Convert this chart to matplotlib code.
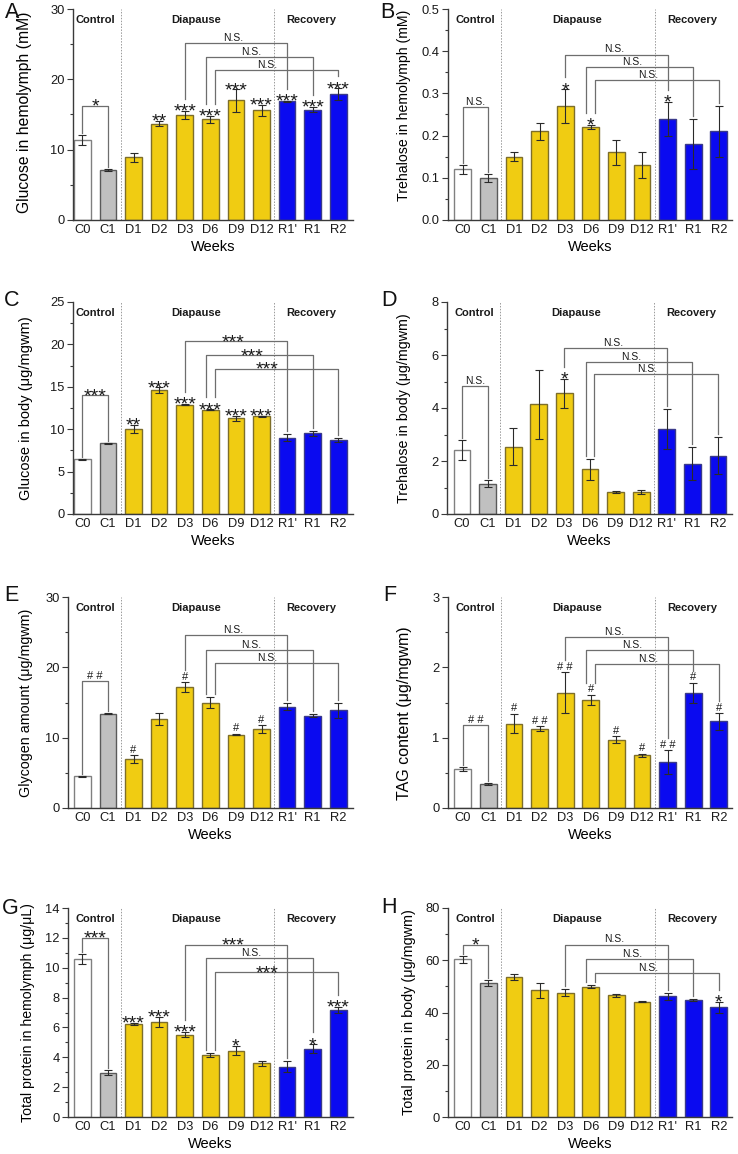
import matplotlib
matplotlib.use("Agg")
import matplotlib.pyplot as plt
import matplotlib.transforms as mtransforms
from matplotlib.ticker import MultipleLocator, FormatStrFormatter

plt.rcParams['font.family'] = ['Liberation Sans', 'DejaVu Sans']

# ---------------- data ----------------
categories = ['C0', 'C1', 'D1', 'D2', 'D3', 'D6', 'D9', 'D12', "R1'", 'R1', 'R2']
groups = ['Control', 'Diapause', 'Recovery']
compare_pairs = [(4, 8), (5, 9), (5, 10)]   # D3-R1', D6-R1, D6-R2

vals_A = [11.4, 7.1, 8.9, 13.7, 14.95, 14.3, 17.0, 15.6, 16.85, 15.7, 17.9]
errs_A = [0.7, 0.1, 0.6, 0.4, 0.6, 0.5, 1.6, 0.8, 0.1, 0.4, 0.8]
marks_A = ['', '', '', '**', '***', '***', '***', '***', '***', '***', '***']
ctrl_A = ('*', 16.2)
cmp_A = [('N.S.', 25.15), ('N.S.', 23.16), ('N.S.', 21.26)]

vals_B = [0.12, 0.10, 0.15, 0.21, 0.27, 0.22, 0.16, 0.13, 0.24, 0.18, 0.21]
errs_B = [0.01, 0.01, 0.01, 0.02, 0.04, 0.005, 0.03, 0.03, 0.04, 0.06, 0.06]
marks_B = ['', '', '', '', '*', '*', '', '', '*', '', '']
ctrl_B = ('N.S.', 0.267)
cmp_B = [('N.S.', 0.392), ('N.S.', 0.362), ('N.S.', 0.332)]

vals_C = [6.43, 8.32, 10.0, 14.6, 12.9, 12.3, 11.3, 11.5, 9.0, 9.5, 8.7]
errs_C = [0.05, 0.1, 0.5, 0.35, 0.1, 0.05, 0.3, 0.1, 0.4, 0.3, 0.25]
marks_C = ['', '', '**', '***', '***', '***', '***', '***', '', '', '']
ctrl_C = ('***', 14.0)
cmp_C = [('***', 20.35), ('***', 18.7), ('***', 17.1)]

vals_D = [2.43, 1.15, 2.54, 4.14, 4.55, 1.69, 0.83, 0.82, 3.2, 1.89, 2.2]
errs_D = [0.38, 0.12, 0.7, 1.3, 0.55, 0.4, 0.05, 0.08, 0.75, 0.62, 0.7]
marks_D = ['', '', '', '', '*', '', '', '', '', '', '']
ctrl_D = ('N.S.', 4.83)
cmp_D = [('N.S.', 6.26), ('N.S.', 5.75), ('N.S.', 5.27)]

vals_E = [4.5, 13.4, 6.93, 12.7, 17.2, 15.0, 10.44, 11.2, 14.38, 13.15, 13.9]
errs_E = [0.1, 0.1, 0.55, 0.85, 0.7, 0.75, 0.1, 0.55, 0.5, 0.2, 1.1]
marks_E = ['', '', '#', '', '#', '', '#', '#', '', '', '']
ctrl_E = ('# #', 18.0)
cmp_E = [('N.S.', 24.6), ('N.S.', 22.5), ('N.S.', 20.55)]

vals_F = [0.56, 0.34, 1.2, 1.13, 1.64, 1.54, 0.97, 0.75, 0.65, 1.64, 1.23]
errs_F = [0.03, 0.02, 0.14, 0.03, 0.29, 0.07, 0.05, 0.02, 0.17, 0.14, 0.12]
marks_F = ['', '', '#', '# #', '# #', '#', '#', '#', '# #', '#', '#']
ctrl_F = ('# #', 1.18)
cmp_F = [('N.S.', 2.43), ('N.S.', 2.24), ('N.S.', 2.05)]

vals_G = [10.57, 2.98, 6.23, 6.37, 5.52, 4.14, 4.45, 3.6, 3.38, 4.58, 7.19]
errs_G = [0.32, 0.14, 0.08, 0.35, 0.18, 0.13, 0.3, 0.18, 0.35, 0.28, 0.2]
marks_G = ['', '', '***', '***', '***', '', '*', '', '', '*', '***']
ctrl_G = ('***', 12.0)
cmp_G = [('***', 11.53), ('N.S.', 10.62), ('***', 9.68)]

vals_H = [60.4, 51.4, 53.7, 48.5, 47.6, 49.9, 46.6, 44.2, 46.2, 44.8, 42.0]
errs_H = [1.4, 1.1, 1.2, 2.9, 1.3, 0.7, 0.6, 0.3, 1.4, 0.4, 2.0]
marks_H = ['', '', '', '', '', '', '', '', '', '', '*']
ctrl_H = ('*', 66.0)
cmp_H = [('N.S.', 66.0), ('N.S.', 60.5), ('N.S.', 55.2)]

ylabels = {
    'A': 'Glucose in hemolymph (mM)',
    'B': 'Trehalose in hemolymph (mM)',
    'C': 'Glucose in body (\u03bcg/mgwm)',
    'D': 'Trehalose in body (\u03bcg/mgwm)',
    'E': 'Glycogen amount (\u03bcg/mgwm)',
    'F': 'TAG content (\u03bcg/mgwm)',
    'G': 'Total protein in hemolymph (\u03bcg/\u03bcL)',
    'H': 'Total protein in body (\u03bcg/mgwm)',
}
xlabel = 'Weeks'

# ---------------- style / layout ----------------
W, H = 738, 1154
fig = plt.figure(figsize=(W / 100, H / 100), dpi=100)

# (left, top, right, bottom) in pixels
boxes = {
    'A': (73, 9, 353, 220), 'B': (448, 9, 732, 220),
    'C': (73, 302, 353, 514), 'D': (447, 302, 732, 514),
    'E': (68, 597, 353, 808), 'F': (448, 597, 732, 808),
    'G': (68, 908, 353, 1117), 'H': (448, 908, 732, 1117),
}
yaxes = {'A': (30, 10, '%d'), 'B': (0.5, 0.1, '%.1f'), 'C': (25, 5, '%d'),
         'D': (8, 2, '%d'), 'E': (30, 10, '%d'), 'F': (3, 1, '%d'),
         'G': (14, 2, '%d'), 'H': (80, 20, '%d')}
# ylabel: (x offset left of spine px, target length px, vertical centre in axes frac)
ylabel_geo = {'A': (41, 200, 0.51), 'B': (37, 190, 0.545), 'C': (40, 182, 0.5),
              'D': (36, 187, 0.5), 'E': (35, 187, 0.5), 'F': (36, 173, 0.45),
              'G': (33, 218, 0.5), 'H': (32, 205, 0.5)}
letter_pos = {'A': (5, 2), 'B': (380, 2), 'C': (4, 290), 'D': (381, 290),
              'E': (4, 585), 'F': (383, 585), 'G': (2, 898), 'H': (381, 897)}
bar0_px = {'A': 82.3, 'B': 462.8, 'C': 82.3, 'D': 462.0,
           'E': 82.3, 'F': 462.8, 'G': 82.3, 'H': 462.8}

panels = {
    'A': (vals_A, errs_A, marks_A, ctrl_A, cmp_A),
    'B': (vals_B, errs_B, marks_B, ctrl_B, cmp_B),
    'C': (vals_C, errs_C, marks_C, ctrl_C, cmp_C),
    'D': (vals_D, errs_D, marks_D, ctrl_D, cmp_D),
    'E': (vals_E, errs_E, marks_E, ctrl_E, cmp_E),
    'F': (vals_F, errs_F, marks_F, ctrl_F, cmp_F),
    'G': (vals_G, errs_G, marks_G, ctrl_G, cmp_G),
    'H': (vals_H, errs_H, marks_H, ctrl_H, cmp_H),
}

fills = ['#ffffff', '#c0c0c0'] + ['#f0cc12'] * 6 + ['#0a0af0'] * 3
edges = ['#808080', '#5a5a5a'] + ['#7d6e2a'] * 6 + ['#3a3a8a'] * 3
bracket_col = '#6e6e6e'
spine_col = '#3a3a3a'

STAR_FS = 14
HASH_FS = 8
NS_FS = 7.5
TICK_FS = 9.3
XLABEL_FS = 10.5
YLABEL_FS0 = 11


def text_style(s):
    if '*' in s:
        return STAR_FS, -4.2
    if '#' in s:
        return HASH_FS, 1.8
    return NS_FS, 1.5


def mark_height_px(s):
    return 9 if s else 0


axes = {}
for key, (vals, errs, marks, ctrl, cmps) in panels.items():
    l, t, r, b = boxes[key]
    ax = fig.add_axes([l / W, 1 - b / H, (r - l) / W, (b - t) / H])
    axes[key] = ax
    ymax, ystep, fmt = yaxes[key]
    hpx = b - t
    px = ymax / hpx  # data units per pixel

    x = list(range(len(categories)))
    ax.bar(x, vals, width=0.65, color=fills, edgecolor=edges, linewidth=1.0, zorder=2)
    ax.errorbar(x, vals, yerr=errs, fmt='none', ecolor='#2a2a2a', elinewidth=0.8,
                capsize=2.8, capthick=0.8, zorder=3)

    unit = 25.6
    cpx0 = bar0_px[key]
    ax.set_xlim((l - cpx0) / unit, (r - cpx0) / unit)
    ax.set_ylim(0, ymax)

    ax.set_xticks(x)
    ax.set_xticklabels(categories, fontsize=TICK_FS)
    ax.tick_params(axis='x', length=0, pad=3, colors='#1a1a1a')
    ax.yaxis.set_major_locator(MultipleLocator(ystep))
    ax.yaxis.set_minor_locator(MultipleLocator(ystep / 2))
    ax.yaxis.set_major_formatter(FormatStrFormatter(fmt))
    ax.tick_params(axis='y', which='major', length=4, width=0.8, labelsize=TICK_FS,
                   direction='out', colors=spine_col, labelcolor='#1a1a1a', pad=2)
    ax.tick_params(axis='y', which='minor', length=2.5, width=0.8, direction='out',
                   colors=spine_col)
    for s in ['top', 'right']:
        ax.spines[s].set_visible(False)
    for s in ['left', 'bottom']:
        ax.spines[s].set_color(spine_col)
        ax.spines[s].set_linewidth(1.0)

    xoff, _, yc = ylabel_geo[key]
    ax.set_ylabel(ylabels[key], fontsize=YLABEL_FS0)
    ax.yaxis.set_label_coords(-xoff / (r - l), yc)
    ax.set_xlabel(xlabel, fontsize=XLABEL_FS, labelpad=3)

    # group separators and titles
    for xs in (1.5, 7.5):
        ax.axvline(xs, color='#9a9a9a', lw=0.7, ls=(0, (1.5, 1.5)), zorder=1)
    tr = mtransforms.blended_transform_factory(ax.transData, ax.transAxes)
    for gx, g in zip((0.5, 4.45, 8.95), groups):
        ax.text(gx, 1 - 11 / hpx, g, transform=tr, ha='center', va='center',
                fontsize=8, fontweight='bold', color='#1a1a1a')

    def label_at(xc, y, s):
        fs, off = text_style(s)
        ax.annotate(s, (xc, y), xytext=(0, off), textcoords='offset points',
                    ha='center', va='baseline', fontsize=fs, color='#1a1a1a', zorder=5)

    # marks above bars
    for i, m in enumerate(marks):
        if m:
            label_at(i, vals[i] + errs[i], m)

    # control bracket
    lab, yb = ctrl
    y0 = vals[0] + errs[0] + 2 * px
    y1 = vals[1] + errs[1] + 2 * px
    ax.plot([0, 0, 1, 1], [y0, yb, yb, y1], color=bracket_col, lw=0.9, zorder=4)
    label_at(0.5, yb, lab)

    # long comparison brackets
    leg_shift = [(0.0, 0.0), (-0.17, 0.0), (0.17, 0.0)]
    text_shift = [-0.1, -0.3, -0.35]
    for k, ((i, j), (lab, yb)) in enumerate(zip(compare_pairs, cmps)):
        xi = i + leg_shift[k][0]
        xj = j + leg_shift[k][1]
        yi = vals[i] + errs[i] + (mark_height_px(marks[i]) + 3) * px
        yj = vals[j] + errs[j] + (mark_height_px(marks[j]) + 3) * px
        ax.plot([xi, xi, xj, xj], [yi, yb, yb, yj], color=bracket_col, lw=0.9, zorder=4)
        label_at((xi + xj) / 2 + text_shift[k], yb, lab)

    lx, ly = letter_pos[key]
    fig.text(lx / W, 1 - ly / H, key, fontsize=15.5, va='top', ha='left', color='#111111')

# fit y-label lengths to the reference
fig.canvas.draw()
renderer = fig.canvas.get_renderer()
for key, ax in axes.items():
    lab = ax.yaxis.label
    hcur = lab.get_window_extent(renderer).height
    target = ylabel_geo[key][1]
    lab.set_fontsize(YLABEL_FS0 * target / hcur)

fig.savefig('out.png', dpi=100)
